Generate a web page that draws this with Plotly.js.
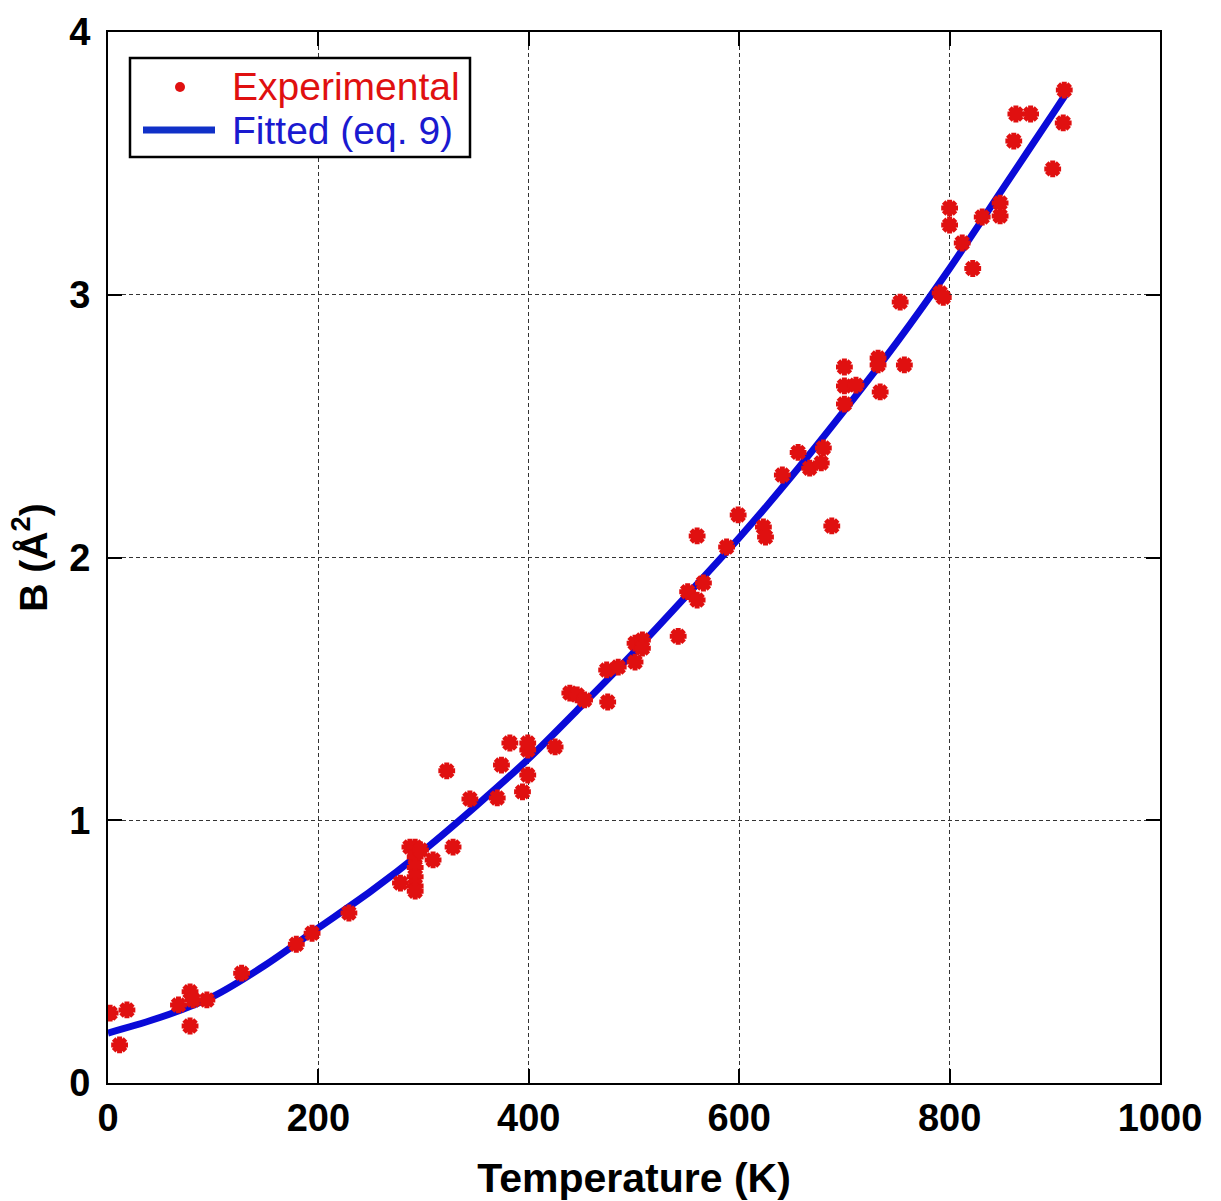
<!DOCTYPE html>
<html>
<head>
<meta charset="utf-8">
<script src="https://cdn.plot.ly/plotly-3.0.1.min.js"></script>
<style>
  html, body { margin: 0; padding: 0; background: #fff; }
  #chart { width: 1221px; height: 1201px; }
</style>
</head>
<body>
<div id="chart"></div>
<script>
// Measured Debye-Waller B factors (Å²) against temperature (K)
const expT = [2, 18, 11, 67, 78, 81, 94, 78, 127, 179, 194, 229, 278,
  287, 292, 292, 292, 292, 292, 292, 297, 309, 328, 344, 322, 370, 374, 382, 394, 399, 399, 399,
  425, 439, 446, 453, 475, 474, 485, 501, 501, 508, 508, 542, 551, 560, 566, 560, 588,
  599, 623, 625, 688, 641, 656, 667, 678, 680, 700, 700, 700, 711, 732, 732, 734, 757, 753, 791, 794,
  800, 800, 812, 822, 831, 848, 848, 861, 863, 877, 898, 909, 908];
const expB = [0.266, 0.278, 0.145, 0.297, 0.347, 0.316, 0.316, 0.217, 0.418, 0.528, 0.570, 0.647, 0.761,
  0.898, 0.898, 0.860, 0.820, 0.785, 0.750, 0.730, 0.887, 0.849, 0.898, 1.081, 1.188, 1.085, 1.210, 1.294, 1.108, 1.172, 1.267, 1.294,
  1.279, 1.484, 1.477, 1.458, 1.450, 1.572, 1.583, 1.602, 1.674, 1.686, 1.655, 1.700, 1.870, 1.838, 1.903, 2.082, 2.040,
  2.162, 2.116, 2.078, 2.120, 2.314, 2.400, 2.340, 2.360, 2.417, 2.584, 2.653, 2.725, 2.656, 2.759, 2.733, 2.630, 2.733, 2.972, 3.007, 2.990,
  3.330, 3.265, 3.197, 3.100, 3.296, 3.349, 3.300, 3.585, 3.688, 3.688, 3.479, 3.779, 3.654];

// Fitted curve (eq. 9), sampled along temperature
const fitT = [0, 50, 100, 150, 200, 250, 300, 350, 400, 450, 500, 550, 600, 650, 700, 750, 800, 850, 900, 910];
const fitB = [0.19, 0.25, 0.33, 0.45, 0.59, 0.73, 0.885, 1.055, 1.235, 1.435, 1.64, 1.855, 2.075, 2.31, 2.56, 2.82, 3.10, 3.40, 3.70, 3.76];

const xTicks = [0, 200, 400, 600, 800, 1000];
const yTicks = [0, 1, 2, 3, 4];
const legendLabels = ['Experimental', 'Fitted (eq. 9)'];

const RED = '#e01010';
const BLUE = '#0a0ad8';
const LEG_BLUE = '#1030c8';
const FONT = 'Liberation Sans, Arial, Helvetica, sans-serif';

const W = 1221, H = 1201;
const M = { l: 108, r: 61, t: 32, b: 118 };
const plotW = W - M.l - M.r, plotH = H - M.t - M.b;
// pixel position on the page -> paper fraction
const px = (x) => (x - M.l) / plotW;
const py = (y) => (H - M.b - y) / plotH;

const traces = [
  {
    x: fitT, y: fitB, type: 'scatter', mode: 'lines',
    name: legendLabels[1], showlegend: false,
    line: { color: BLUE, width: 7, shape: 'spline', smoothing: 0.8 }
  },
  {
    x: expT, y: expB, type: 'scatter', mode: 'markers',
    name: legendLabels[0], showlegend: false,
    marker: { symbol: 'asterisk-open', size: 14, color: RED, line: { color: RED, width: 5 } }
  }
];

const axisCommon = {
  showline: true, linecolor: '#000', linewidth: 2, mirror: 'ticks',
  ticks: 'inside', ticklen: 14, tickwidth: 2, tickcolor: '#000',
  showgrid: true, gridcolor: '#333', gridwidth: 1, griddash: '4px,3px',
  zeroline: false,
  tickfont: { family: FONT, size: 38, color: '#000', weight: 'bold' }
};

// legend box drawn as shapes plus text annotations
const legendShapes = [
  { type: 'rect', xref: 'paper', yref: 'paper', x0: px(130), x1: px(470), y0: py(157), y1: py(58),
    line: { color: '#000', width: 2.5 }, fillcolor: '#fff', layer: 'above' },
  { type: 'circle', xref: 'paper', yref: 'paper', xsizemode: 'pixel', ysizemode: 'pixel',
    xanchor: px(180), yanchor: py(87), x0: -5, x1: 5, y0: -5, y1: 5,
    fillcolor: RED, line: { color: RED, width: 0 }, layer: 'above' },
  { type: 'line', xref: 'paper', yref: 'paper', x0: px(143), x1: px(215), y0: py(130), y1: py(130),
    line: { color: LEG_BLUE, width: 7 }, layer: 'above' }
];
const legendAnnotations = [
  { text: legendLabels[0], xref: 'paper', yref: 'paper', x: px(230), y: py(86),
    xanchor: 'left', yanchor: 'middle', showarrow: false,
    font: { family: FONT, size: 39, color: RED } },
  { text: legendLabels[1], xref: 'paper', yref: 'paper', x: px(230), y: py(131),
    xanchor: 'left', yanchor: 'middle', showarrow: false,
    font: { family: FONT, size: 39, color: '#1a1ad0' } }
];

const layout = {
  width: W, height: H,
  margin: M,
  paper_bgcolor: '#fff', plot_bgcolor: '#fff',
  font: { family: FONT, color: '#000' },
  showlegend: false,
  xaxis: Object.assign({}, axisCommon, {
    range: [0, 1000], tickvals: xTicks, ticktext: xTicks.map(String),
    title: { text: 'Temperature (K)', font: { family: FONT, size: 41, weight: 'bold', color: '#000' }, standoff: 32 }
  }),
  yaxis: Object.assign({}, axisCommon, {
    range: [0, 4], tickvals: yTicks, ticktext: yTicks.map(String),
    ticklabelstandoff: 8,
    title: { text: 'B (Å<sup>2</sup>)', font: { family: FONT, size: 39, weight: 'bold', color: '#000' }, standoff: 10 }
  }),
  shapes: legendShapes,
  annotations: legendAnnotations
};

Plotly.newPlot('chart', traces, layout, { displayModeBar: false, staticPlot: true });
</script>
</body>
</html>
